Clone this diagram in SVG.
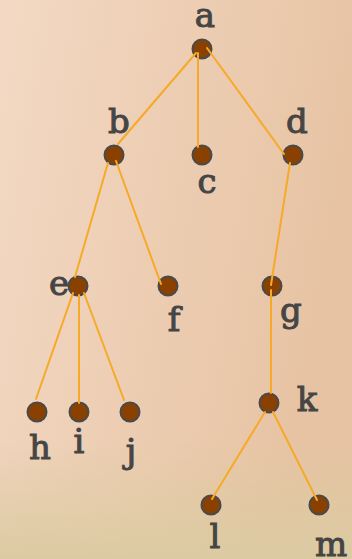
<svg xmlns="http://www.w3.org/2000/svg" width="352" height="559" viewBox="0 0 352 559">
<defs>
<linearGradient id="bg" x1="0" y1="0" x2="1" y2="0.3">
<stop offset="0" stop-color="#F3D9C4"/>
<stop offset="1" stop-color="#E7C3A3"/>
</linearGradient>
<linearGradient id="bot" x1="0" y1="0" x2="0" y2="1">
<stop offset="0" stop-color="#DCCBA2" stop-opacity="0"/>
<stop offset="1" stop-color="#DCCBA2" stop-opacity="1"/>
</linearGradient>
<style>
.n{fill:#8A4100;stroke:#4A4A4A;stroke-width:2}
.t{font-family:"DejaVu Serif","Liberation Serif",serif;font-size:34px;fill:#454545;stroke:#454545;stroke-width:1;text-anchor:middle}
.e{stroke:#F7A928;stroke-width:2;fill:none;stroke-linecap:round}
</style>
</defs>
<rect width="352" height="559" fill="url(#bg)"/>
<rect y="440" width="352" height="119" fill="url(#bot)"/>
<g id="n-a"><circle class="n" cx="202" cy="49" r="9.5"/><text class="t" x="205" y="27">a</text></g>
<g id="n-b"><circle class="n" cx="114" cy="155" r="9.5"/><text class="t" x="119" y="133">b</text></g>
<g id="n-c"><circle class="n" cx="202" cy="155" r="9.5"/><text class="t" x="207" y="193">c</text></g>
<g id="n-d"><circle class="n" cx="293" cy="155" r="9.5"/><text class="t" x="297" y="133">d</text></g>
<g id="n-e"><circle class="n" cx="78" cy="286" r="9.5"/><text class="t" x="59" y="295">e</text></g>
<g id="n-f"><circle class="n" cx="168" cy="286" r="9.5"/><text class="t" x="174" y="331">f</text></g>
<g id="n-g"><circle class="n" cx="272" cy="286" r="9.5"/><text class="t" x="291" y="322">g</text></g>
<g id="n-h"><circle class="n" cx="37" cy="412" r="9.5"/><text class="t" x="40" y="459">h</text></g>
<g id="n-i"><circle class="n" cx="79" cy="412" r="9.5"/><text class="t" x="79" y="453">i</text></g>
<g id="n-j"><circle class="n" cx="130" cy="412" r="9.5"/><text class="t" x="131" y="463">j</text></g>
<g id="n-k"><circle class="n" cx="269" cy="403" r="9.5"/><text class="t" x="307" y="411">k</text></g>
<g id="n-l"><circle class="n" cx="211" cy="505" r="9.5"/><text class="t" x="215" y="548">l</text></g>
<g id="n-m"><circle class="n" cx="319" cy="505" r="9.5"/><text class="t" x="331" y="556">m</text></g>
<g id="edges">
<line class="e" x1="196" y1="53" x2="118" y2="144"/>
<line class="e" x1="198" y1="53" x2="198" y2="147"/>
<line class="e" x1="207" y1="48" x2="284" y2="154"/>
<line class="e" x1="108" y1="163" x2="75" y2="277"/>
<line class="e" x1="116" y1="161" x2="161" y2="284"/>
<line class="e" x1="290" y1="163" x2="271" y2="285"/>
<line class="e" x1="73" y1="293" x2="36" y2="399"/>
<line class="e" x1="79" y1="295" x2="79" y2="403"/>
<line class="e" x1="84" y1="293" x2="124" y2="400"/>
<line class="e" x1="271" y1="290" x2="271" y2="393"/>
<line class="e" x1="265" y1="412" x2="212" y2="499"/>
<line class="e" x1="273" y1="412" x2="317" y2="500"/>
</g>
</svg>
